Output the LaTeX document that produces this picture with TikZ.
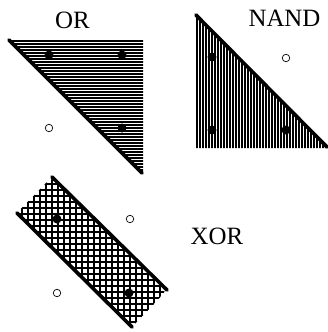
\documentclass[tikz,border=0pt]{standalone}
\usepackage{fontspec}
\setmainfont{Liberation Serif}
\usetikzlibrary{positioning}
\tikzset{
  sep/.style={line width=3.6bp, line cap=round},
  hatch/.style={line width=1.9bp},
  grid/.style={line width=1.4bp},
  fdot/.style={circle, fill=black, inner sep=0pt, minimum size=9bp},
  odot/.style={circle, draw, line width=0.7bp, inner sep=0pt, minimum size=7.5bp},
  glabel/.style={font=\fontsize{25}{28}\selectfont, anchor=base, inner sep=0pt},
}
\begin{document}
\begin{tikzpicture}[x=1bp, y=-1bp]
\useasboundingbox (0,0) rectangle (328,332);

% OR gate
\coordinate (orA) at (9,40);
\coordinate (orB) at (143,40);
\coordinate (orC) at (142,173);
\begin{scope}
  \clip (orA) -- (orB) -- (143,173) -- cycle;
  \foreach \y in {41,44,...,175}
    \draw[hatch] (0,\y) -- (150,\y);
\end{scope}
\draw[sep] (orA) -- (orC);
\node[fdot] (or11) at (49,55) {};
\node[fdot] (or01) at (122,55) {};
\node[fdot] (or10) at (122,128) {};
\node[odot] (or00) at (49,128) {};
\node[glabel] (orlab) at (72.5,28) {OR};

% NAND gate
\coordinate (nandA) at (196,15);
\coordinate (nandB) at (196,148);
\coordinate (nandC) at (327,147);
\begin{scope}
  \clip (nandA) -- (nandB) -- (328,148) -- cycle;
  \foreach \x in {197,200,...,330}
    \draw[hatch] (\x,10) -- (\x,150);
\end{scope}
\draw[sep] (nandA) -- (nandC);
\node[fdot] (nand00) at (212,57) {};
\node[fdot] (nand01) at (212,130) {};
\node[fdot] (nand10) at (286,130) {};
\node[odot] (nand11) at (286,58) {};
\node[glabel] (nandlab) at (284.5,26) {NAND};

% XOR gate
\coordinate (xorA) at (52,177);
\coordinate (xorB) at (167,290);
\coordinate (xorC) at (17,213);
\coordinate (xorD) at (132,327);
\begin{scope}
  \clip[rounded corners=5bp] (xorA) -- (xorB) -- (xorD) -- (xorC) -- cycle;
  \foreach \x in {10,16,...,175}
    \draw[grid] (\x,170) -- (\x,332);
  \foreach \y in {172,178,...,332}
    \draw[grid] (10,\y) -- (175,\y);
\end{scope}
\draw[sep] (xorA) -- (xorB);
\draw[sep] (xorC) -- (xorD);
\node[fdot] (xor01) at (57,219) {};
\node[fdot] (xor10) at (129,293) {};
\node[odot] (xor11) at (130,219) {};
\node[odot] (xor00) at (57,293) {};
\node[glabel] (xorlab) at (217,244) {XOR};

\end{tikzpicture}
\end{document}
